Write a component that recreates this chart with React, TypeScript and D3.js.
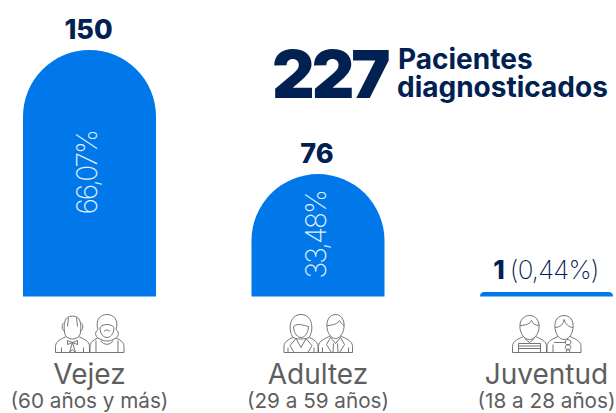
import * as d3 from "d3";

const categories = ["Vejez", "Adultez", "Juventud"];
const ranges = ["(60 años y más)", "(29 a 59 años)", "(18 a 28 años)"];
const values = [150, 76, 1];
const percents = ["66,07%", "33,48%", "0,44%"];
const total = "227";
const totalLabel = ["Pacientes", "diagnosticados"];
const icons = [
  ["oldMan", "oldWoman"],
  ["woman", "man"],
  ["boy", "girl"],
];

const BLUE = "#0078EA";
const NAVY = "#012152";
const GREY = "#5e5e5e";
const FONT = "Inter, 'Open Sans', sans-serif";

const W = 616;
const H = 413;
const baseY = 296.5;
const minBar = 4.5;

const x = d3.scaleBand<string>().domain(categories).range([23, 613]).paddingInner(0.418).paddingOuter(0);
const y = d3.scaleLinear().domain([3, 150]).range([baseY, 50]);

// rounded top bar, the radius is capped by the height so the tiny bar stays flat
function barPath(x0: number, top: number, w: number) {
  const h = Math.max(baseY - top, minBar);
  const r = Math.min(w / 2, h);
  const t = baseY - h;
  if (r === w / 2) {
    return `M${x0},${baseY} V${t + r} A${r},${r} 0 0 1 ${x0 + w},${t + r} V${baseY} Z`;
  }
  return `M${x0},${baseY} V${t + r} Q${x0},${t} ${x0 + r},${t} H${x0 + w - r} Q${x0 + w},${t} ${x0 + w},${t + r} V${baseY} Z`;
}

// outline pictograms, local origin is bottom centre
// first path of each list is filled white so it sits over the shoulders
const BODY = "M-17,0 V-6 C-17,-12 -10,-14 -5,-16.5 L5,-16.5 C10,-14 17,-12 17,-6 V0 Z";
const DETAILS: Record<string, string[]> = {
  oldMan: [
    "M-7.5,-18 C-9,-24 -9,-35 -3,-36 C-1,-36.5 1,-36.5 3,-36 C9,-35 9,-24 7.5,-18 C5,-12 -5,-12 -7.5,-18 Z",
    "M-4,-35 L-5,-26 M4,-35 L5,-26 M-8.5,-30 C-11,-28 -11,-23 -8,-21 M8.5,-30 C11,-28 11,-23 8,-21",
    "M-5,-12 L0,-10 L5,-12 L5,-8 L0,-10 L-5,-8 Z M0,-10 L-3,0 L0,-3 L3,0 L0,-10 M-11,0 V-5 M11,0 V-5",
  ],
  oldWoman: [
    "M-6,-13 C-12,-15 -13,-20 -9,-23 C-12,-32 -7,-38 0,-38 C7,-38 12,-32 9,-23 C13,-20 12,-15 6,-13 C3,-11 -3,-11 -6,-13 Z",
    "M-7,-25 C-7,-18 -3,-15 0,-15 C3,-15 7,-18 7,-25 C4,-29 -4,-29 -7,-25 Z M-3,-21 C-1,-23 1,-23 3,-21",
    "M-6,-12 C-4,-7 4,-7 6,-12 M-11,0 V-12 M11,0 V-12",
  ],
  woman: [
    "M-8,-15 C-13,-22 -12,-38 0,-38 C12,-38 13,-22 8,-15 C4,-13 -4,-13 -8,-15 Z",
    "M-7.5,-26 C-7,-18 -3,-15 0,-15 C3,-15 7,-18 7.5,-26 C2,-27 -3,-30 -7.5,-26 Z",
    "M-5,-14 L0,-5 L5,-14 M-5,-14 L-11,-7 L-7,0 M5,-14 L11,-7 L7,0 M-13,0 V-5 M13,0 V-5",
  ],
  man: [
    "M-8.5,-25 C-7.5,-17 -3,-14 0,-14 C3,-14 7.5,-17 8.5,-25 C9.5,-33 5,-38 0,-38 C-5,-38 -9.5,-33 -8.5,-25 Z",
    "M-8.5,-27 C-3,-27 3,-29 4,-32 C5,-30 7,-28 8.5,-27",
    "M-5,-15 L0,-9 L5,-15 M-2,-9 L-2.5,0 M2,-9 L2.5,0 M-5,-15 L-9,-8 L-4,0 M5,-15 L9,-8 L4,0 M-13,0 V-5 M13,0 V-5",
  ],
  boy: [
    "M-9.5,-24 C-8.5,-17 -4,-13 0,-13 C4,-13 8.5,-17 9.5,-24 C10.5,-32 6,-37 0,-37 C-6,-37 -10.5,-32 -9.5,-24 Z",
    "M-9.5,-27 C-4,-27 1,-29 2,-32 C3,-29 6,-27 9.5,-27",
    "M-11,0 V-9 H11 V0 M-11,-6.5 H11 M-11,-4 H11 M-5,-14 L0,-10 L5,-14",
  ],
  girl: [
    "M-9,-24 C-8,-17 -4,-13 0,-13 C4,-13 8,-17 9,-24 C10,-32 6,-37 0,-37 C-6,-37 -10,-32 -9,-24 Z",
    "M-9,-25 C-4,-25 0,-29 0,-33 C1,-29 5,-25 9,-25",
    "M-11,0 V-8 M-10,-10 H2 M4,-13 a2.8,2.8 0 1 0 0.1,0 M4,-8 a2.8,2.8 0 1 0 0.1,0 M4,-3.5 a1.8,1.8 0 1 0 0.1,0",
  ],
};

function Person({ kind, cx }: { kind: string; cx: number }) {
  return (
    <g transform={`translate(${cx},352.5)`} fill="none" stroke="#666" strokeWidth={0.9} strokeLinejoin="round">
      <path d={BODY} fill="#fff" />
      {DETAILS[kind].map((d, i) => (
        <path key={i} d={d} fill={i < 1 ? "#fff" : "none"} />
      ))}
    </g>
  );
}

export default function App() {
  const barW = x.bandwidth();
  return (
    <svg width={W} height={H} style={{ position: "absolute", left: 0, top: 0, background: "#fff" }} fontFamily={FONT}>
      {categories.map((c, i) => {
        const x0 = x(c) as number;
        const cx = x0 + barW / 2;
        const top = y(values[i]);
        return (
          <g key={c}>
            <path d={barPath(x0, top, barW)} fill={BLUE} />
            {i < 2 && (
              <>
                <text x={cx - 1} y={top - 11} textAnchor="middle" fontSize={27} fontWeight={800} fill={NAVY}>
                  {values[i]}
                </text>
                <text
                  transform={`translate(${cx + 7.5},${(top + baseY) / 2 - 0.5}) rotate(-90)`}
                  textAnchor="middle"
                  fontSize={28}
                  fontWeight={200}
                  letterSpacing={-2}
                  fill="#e3effd"
                >
                  {percents[i]}
                </text>
              </>
            )}
            {i === 2 && (
              <text x={cx - 0.5} y={279} textAnchor="middle" fontSize={26} fill={NAVY}>
                <tspan fontWeight={800}>{values[i]}</tspan>
                <tspan fontWeight={200} dx={5} letterSpacing={-0.8}>({percents[i]})</tspan>
              </text>
            )}
            <Person kind={icons[i][0]} cx={cx - 17} />
            <Person kind={icons[i][1]} cx={cx + 17.5} />
            <text x={cx} y={384} textAnchor="middle" fontSize={28} fontWeight={400} fill={GREY}>{c}</text>
            <text x={cx} y={408} textAnchor="middle" fontSize={20.7} fontWeight={400} fill={GREY}>{ranges[i]}</text>
          </g>
        );
      })}
      <text x={272} y={98} fontSize={66} fontWeight={900} fill={NAVY} letterSpacing={-3}>{total}</text>
      <text x={398} y={69} fontSize={28} fontWeight={700} fill={NAVY}>{totalLabel[0]}</text>
      <text x={397} y={96.5} fontSize={28} fontWeight={700} fill={NAVY}>{totalLabel[1]}</text>
    </svg>
  );
}
